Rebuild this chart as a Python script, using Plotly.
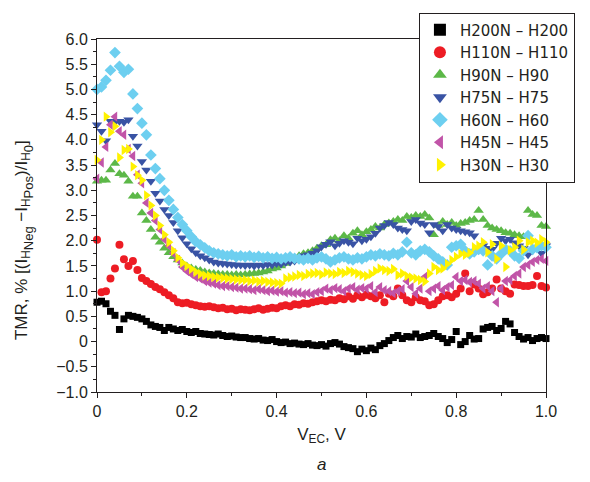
import plotly.graph_objects as go

V = [0.00, 0.01, 0.02, 0.03, 0.04, 0.05, 0.06, 0.07, 0.08, 0.09,
     0.10, 0.11, 0.12, 0.13, 0.14, 0.15, 0.16, 0.17, 0.18, 0.19,
     0.20, 0.21, 0.22, 0.23, 0.24, 0.25, 0.26, 0.27, 0.28, 0.29,
     0.30, 0.31, 0.32, 0.33, 0.34, 0.35, 0.36, 0.37, 0.38, 0.39,
     0.40, 0.41, 0.42, 0.43, 0.44, 0.45, 0.46, 0.47, 0.48, 0.49,
     0.50, 0.51, 0.52, 0.53, 0.54, 0.55, 0.56, 0.57, 0.58, 0.59,
     0.60, 0.61, 0.62, 0.63, 0.64, 0.65, 0.66, 0.67, 0.68, 0.69,
     0.70, 0.71, 0.72, 0.73, 0.74, 0.75, 0.76, 0.77, 0.78, 0.79,
     0.80, 0.81, 0.82, 0.83, 0.84, 0.85, 0.86, 0.87, 0.88, 0.89,
     0.90, 0.91, 0.92, 0.93, 0.94, 0.95, 0.96, 0.97, 0.98, 0.99, 1.00]

H200 = [0.78, 0.80, 0.75, 0.60, 0.52, 0.24, 0.45, 0.52, 0.50, 0.48,
        0.45, 0.40, 0.33, 0.30, 0.28, 0.22, 0.28, 0.25, 0.22, 0.24,
        0.20, 0.18, 0.20, 0.16, 0.15, 0.14, 0.13, 0.15, 0.12, 0.10,
        0.11, 0.09, 0.08, 0.08, 0.06, 0.05, 0.06, 0.03, 0.02, 0.04,
        0.00, -0.02, -0.01, -0.04, -0.03, -0.05, -0.06, -0.04, -0.07, -0.08,
        -0.06, -0.09, -0.04, -0.02, -0.05, -0.10, -0.12, -0.14, -0.20, -0.15,
        -0.18, -0.13, -0.16, -0.08, -0.04, 0.02, 0.08, 0.12, 0.06, 0.10,
        0.09, 0.15, 0.08, 0.10, 0.12, 0.16, 0.10, 0.06, -0.02, 0.04,
        0.20, -0.06, 0.00, 0.12, 0.05, 0.06, 0.25, 0.28, 0.30, 0.22,
        0.26, 0.40, 0.35, 0.18, 0.10, 0.05, 0.08, 0.02, 0.06, 0.08, 0.06]

H110 = [2.02, 0.98, 1.00, 1.25, 1.45, 1.92, 1.63, 1.50, 1.60, 1.42,
        1.26, 1.20, 1.14, 1.08, 1.04, 0.98, 0.92, 0.86, 0.78, 0.76,
        0.77, 0.74, 0.72, 0.70, 0.69, 0.70, 0.68, 0.66, 0.67, 0.64,
        0.65, 0.62, 0.64, 0.63, 0.62, 0.64, 0.66, 0.63, 0.65, 0.67,
        0.66, 0.70, 0.72, 0.70, 0.74, 0.73, 0.76, 0.75, 0.78, 0.80,
        0.82, 0.80, 0.83, 0.82, 0.86, 0.84, 0.90, 0.85, 0.92, 0.88,
        0.93, 0.90, 0.86, 0.92, 0.78, 0.95, 0.90, 1.05, 0.92, 0.82,
        0.78, 0.88, 0.82, 0.80, 0.72, 0.74, 0.82, 0.90, 0.92, 0.88,
        0.95, 1.05, 1.35, 1.00, 1.13, 1.05, 0.94, 0.98, 1.05, 1.23,
        1.05, 1.00, 0.95, 1.13, 1.12, 1.10, 1.10, 1.12, 1.30, 1.10, 1.07]

H90 = [3.18, 3.20, 3.20, 3.40, 3.53, 3.33, 3.30, 3.18, 2.88, 2.88,
       2.55, 2.40, 2.22, 2.07, 1.97, 1.85, 1.76, 1.68, 1.62, 1.56,
       1.50, 1.46, 1.43, 1.41, 1.38, 1.36, 1.35, 1.34, 1.33, 1.33,
       1.32, 1.33, 1.32, 1.33, 1.34, 1.35, 1.36, 1.38, 1.40, 1.44,
       1.46, 1.50, 1.55, 1.60, 1.66, 1.70, 1.74, 1.76, 1.80, 1.85,
       1.90, 1.92, 2.02, 2.05, 2.00, 2.10, 2.05, 2.15, 2.20, 2.12,
       2.18, 2.22, 2.28, 2.25, 2.32, 2.35, 2.38, 2.42, 2.40, 2.48,
       2.46, 2.50, 2.48, 2.52, 2.45, 2.12, 2.30, 2.38, 2.32, 2.36,
       2.30, 2.34, 2.36, 2.40, 2.42, 2.60, 2.42, 2.30, 2.25, 2.22,
       2.20, 2.16, 2.15, 2.12, 2.10, 2.08, 2.60, 2.52, 2.50, 2.30, 2.28]

H75 = [4.30, 4.17, 3.98, 4.37, 4.35, 4.37, 4.35, 4.40, 4.07, 3.88,
       3.57, 3.40, 3.18, 2.94, 2.79, 2.62, 2.50, 2.36, 2.20, 2.06,
       1.94, 1.84, 1.76, 1.70, 1.66, 1.62, 1.58, 1.56, 1.55, 1.54,
       1.53, 1.52, 1.52, 1.51, 1.52, 1.50, 1.52, 1.51, 1.53, 1.52,
       1.55, 1.54, 1.57, 1.58, 1.60, 1.65, 1.70, 1.72, 1.75, 1.80,
       1.88, 1.93, 1.98, 1.90, 1.95, 2.00, 1.97, 1.94, 2.05, 2.00,
       2.03, 2.08, 2.15, 2.25, 2.30, 2.36, 2.32, 2.25, 2.22, 2.20,
       2.38, 2.42, 2.35, 2.32, 2.16, 2.32, 2.28, 2.20, 2.32, 2.25,
       2.22, 2.20, 2.18, 2.16, 2.10, 1.81, 1.90, 1.85, 1.83, 1.95,
       2.05, 2.00, 2.03, 1.96, 1.90, 1.85, 1.72, 1.80, 1.87, 1.75, 1.90]

H60 = [5.00, 5.05, 5.18, 5.38, 5.73, 5.46, 5.34, 5.40, 4.91, 4.62,
       4.33, 4.10, 3.70, 3.43, 3.23, 3.00, 2.80, 2.62, 2.46, 2.32,
       2.20, 2.08, 1.98, 1.92, 1.86, 1.80, 1.76, 1.74, 1.72, 1.70,
       1.72, 1.68, 1.70, 1.68, 1.70, 1.67, 1.69, 1.66, 1.68, 1.65,
       1.67, 1.64, 1.66, 1.68, 1.65, 1.64, 1.62, 1.65, 1.62, 1.66,
       1.68, 1.64, 1.58, 1.62, 1.66, 1.68, 1.64, 1.62, 1.66, 1.64,
       1.68, 1.72, 1.70, 1.74, 1.72, 1.70, 1.75, 1.72, 1.78, 1.97,
       1.76, 1.72, 1.80, 1.83, 1.78, 1.70, 1.64, 1.58, 1.52, 1.87,
       1.90, 1.93, 1.80, 1.74, 1.78, 1.83, 1.80, 1.52, 1.70, 1.64,
       1.74, 1.83, 1.80, 1.70, 1.65, 1.80, 2.10, 1.83, 1.86, 1.90, 1.87]

H45 = [3.23, 3.55, 3.86, 4.30, 4.46, 4.17, 4.10, 3.82, 3.68, 3.31,
       3.14, 2.75, 2.55, 2.40, 2.22, 2.03, 1.90, 1.75, 1.62, 1.48,
       1.40, 1.34, 1.28, 1.25, 1.20, 1.17, 1.15, 1.12, 1.10, 1.10,
       1.08, 1.07, 1.05, 1.05, 1.04, 1.02, 1.04, 1.02, 1.00, 1.01,
       0.99, 1.00, 0.97, 0.98, 0.96, 0.97, 0.94, 0.96, 0.94, 0.98,
       1.00, 1.05, 1.02, 1.06, 1.04, 1.00, 1.05, 1.08, 1.03, 1.06,
       1.05, 1.10, 0.98, 1.08, 1.02, 1.00, 0.96, 1.00, 1.04, 1.20,
       1.08, 0.95, 1.05, 1.28, 1.00, 1.05, 1.10, 1.02, 1.08, 1.12,
       1.28, 1.20, 1.22, 1.18, 1.20, 1.15, 1.05, 1.10, 1.00, 0.78,
       1.05, 1.20, 1.22, 1.30, 1.35, 1.48, 1.52, 1.58, 1.62, 1.64, 1.60]

H30 = [3.60, 4.00, 4.46, 4.15, 4.27, 3.65, 3.80, 3.82, 3.47, 3.30,
       3.20, 2.90, 2.70, 2.50, 2.30, 2.12, 1.97, 1.80, 1.66, 1.56,
       1.50, 1.44, 1.38, 1.34, 1.31, 1.30, 1.28, 1.27, 1.26, 1.25,
       1.24, 1.23, 1.22, 1.22, 1.20, 1.21, 1.19, 1.20, 1.18, 1.17,
       1.16, 1.15, 1.25, 1.27, 1.29, 1.32, 1.30, 1.34, 1.35, 1.36,
       1.33, 1.37, 1.35, 1.34, 1.38, 1.36, 1.40, 1.38, 1.35, 1.32,
       1.30, 1.34, 1.40, 1.45, 1.42, 1.40, 1.44, 1.32, 1.35, 1.30,
       1.27, 1.25, 1.22, 1.19, 1.35, 1.48, 1.42, 1.45, 1.54, 1.62,
       1.68, 1.74, 1.72, 1.76, 1.87, 1.90, 1.97, 1.77, 1.93, 1.64,
       1.90, 1.48, 1.81, 1.87, 2.00, 1.82, 1.97, 2.00, 1.96, 2.03, 1.97]

names = ["H200N – H200", "H110N – H110", "H90N – H90", "H75N – H75",
         "H60N – H60", "H45N – H45", "H30N – H30"]
series = [H200, H110, H90, H75, H60, H45, H30]
colors = ["#000000", "#ed1c24", "#5cb848", "#3953a4", "#6dcff0", "#c154a8", "#fff200"]
symbols = ["square", "circle", "triangle-up", "triangle-down", "diamond",
           "triangle-left", "triangle-right"]
sizes = [7, 8, 9, 9, 9, 9, 9]

ytick_vals = [-1.0, -0.5, 0, 0.5, 1.0, 1.5, 2.0, 2.5, 3.0, 3.5, 4.0, 4.5, 5.0, 5.5, 6.0]
ytick_text = ["−1.0", "−0.5", "0", "0.5", "1.0", "1.5", "2.0", "2.5", "3.0",
              "3.5", "4.0", "4.5", "5.0", "5.5", "6.0"]
xtick_vals = [0, 0.2, 0.4, 0.6, 0.8, 1.0]
xtick_text = ["0", "0.2", "0.4", "0.6", "0.8", "1.0"]

fig = go.Figure()
for n, s, c, sym, sz in zip(names, series, colors, symbols, sizes):
    fig.add_trace(go.Scatter(
        x=V, y=s, mode="markers", name=n,
        marker=dict(color=c, symbol=sym, size=sz, line=dict(width=0)),
        cliponaxis=False,
    ))

font = "Liberation Sans, Arial, sans-serif"
ss = "<span style='font-size:13px'>"
ytitle = ("TMR, % [(I<sub>H<sub>" + ss + "Neg</span></sub></sub> −I<sub>H<sub>" + ss +
          "Pos</span></sub></sub>)/I<sub>H<sub>" + ss + "0</span></sub></sub>]")

fig.update_layout(
    width=590, height=482,
    margin=dict(l=97, r=44, t=33, b=90),
    paper_bgcolor="white", plot_bgcolor="white",
    font=dict(family=font, size=16, color="#231f20"),
    showlegend=True,
    legend=dict(
        x=0.717, y=1.075, xanchor="left", yanchor="top",
        bgcolor="white", bordercolor="#231f20", borderwidth=1,
        font=dict(size=15, family="DejaVu Sans", color="#231f20"),
        itemsizing="constant", tracegroupgap=0,
    ),
    xaxis=dict(
        range=[0, 1], tickvals=xtick_vals, ticktext=xtick_text,
        showgrid=False, zeroline=False,
        showline=True, linecolor="#231f20", linewidth=1, mirror=True,
        ticks="outside", ticklen=5, tickcolor="#231f20",
        minor=dict(tickvals=[0.1, 0.3, 0.5, 0.7, 0.9], ticks="outside",
                   ticklen=3, tickcolor="#231f20"),
        title=dict(text="V<sub>EC</sub>, V", font=dict(size=17), standoff=8),
        tickfont=dict(size=16),
    ),
    yaxis=dict(
        range=[-1, 6], tickvals=ytick_vals, ticktext=ytick_text,
        showgrid=False, zeroline=False,
        showline=True, linecolor="#231f20", linewidth=1, mirror=True,
        ticks="outside", ticklen=5, tickcolor="#231f20",
        minor=dict(dtick=0.25, ticks="outside", ticklen=3, tickcolor="#231f20"),
        tickfont=dict(size=16),
    ),
    annotations=[
        dict(text="<i>a</i>", x=0.5, y=-0.205, xref="paper", yref="paper",
             showarrow=False, font=dict(size=17), xanchor="center", yanchor="middle"),
        dict(text=ytitle, textangle=-90, x=-0.163, y=0.43, xref="paper", yref="paper",
             showarrow=False, font=dict(size=17), xanchor="center", yanchor="middle"),
    ],
)

fig.write_html("out.html")
